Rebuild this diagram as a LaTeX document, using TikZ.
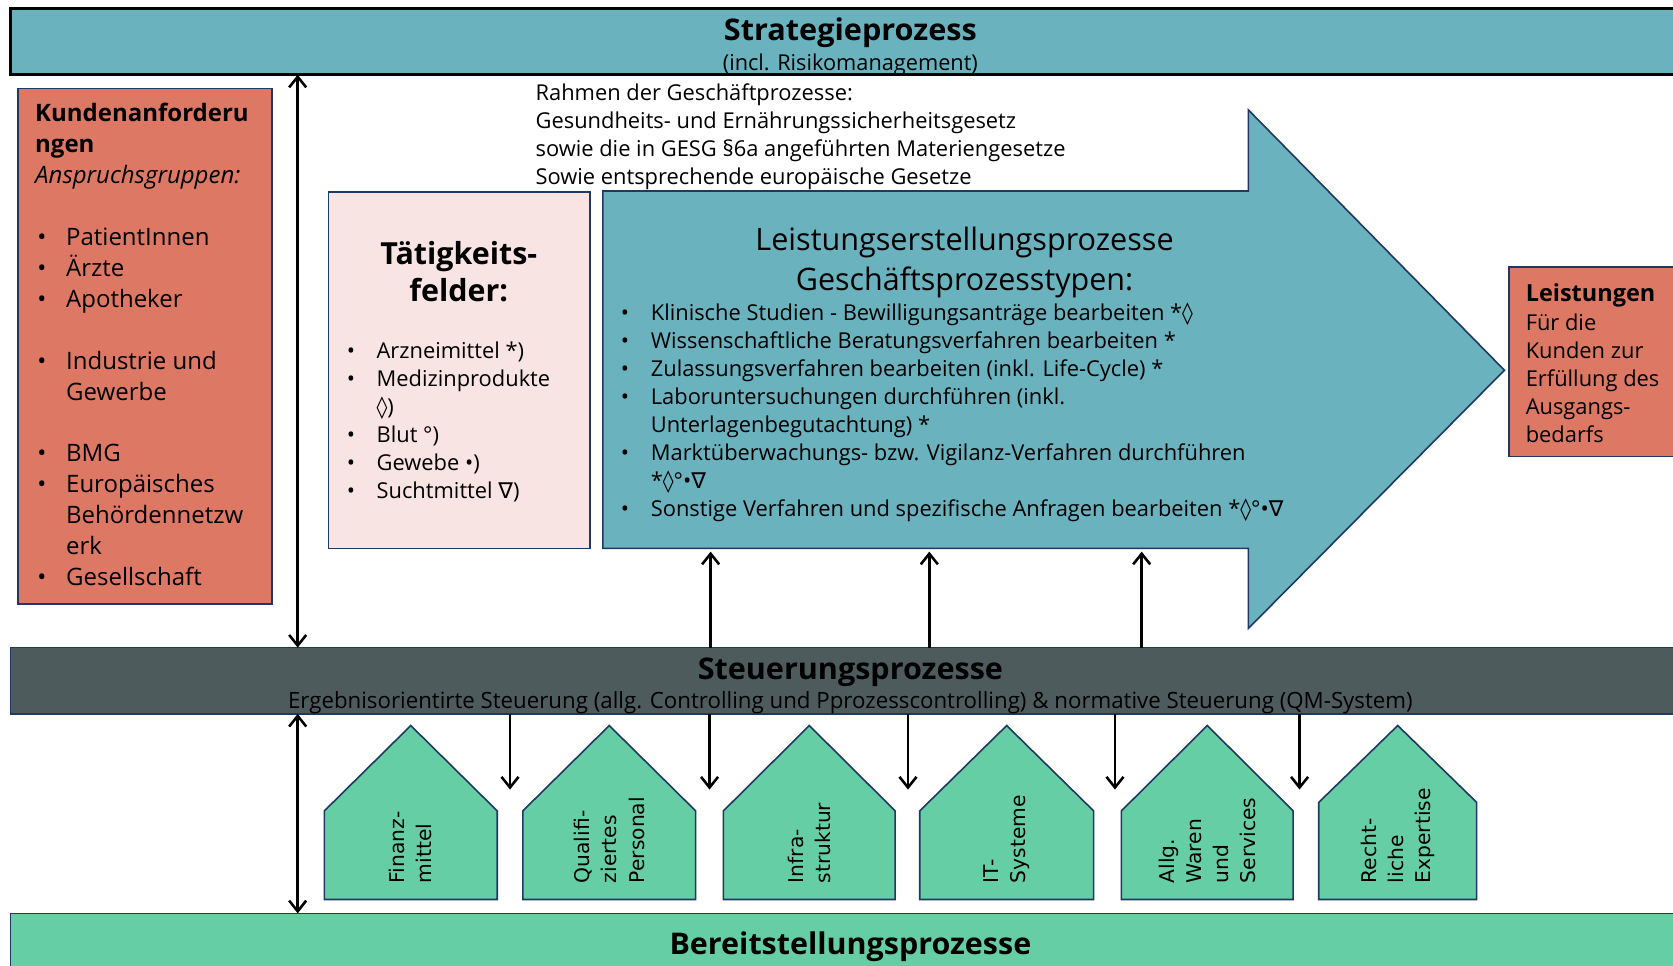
\documentclass[tikz,border=0pt]{standalone}
\usepackage{fontspec}
\usepackage{graphicx}
\setmainfont{Open Sans}
\newfontfamily\symf{DejaVu Sans}
\newfontfamily\housef{DejaVu Sans}
\usetikzlibrary{arrows.meta}
\definecolor{tealbg}{RGB}{105,178,190}
\definecolor{salmonbg}{RGB}{221,120,101}
\definecolor{pinkbg}{RGB}{248,228,227}
\definecolor{darkbar}{RGB}{78,91,92}
\definecolor{greenbg}{RGB}{102,206,165}
\definecolor{navyline}{RGB}{31,56,100}
\newcommand\fsz[2]{\fontsize{#1pt}{#2pt}\selectfont}
\newcommand\bul[1]{\makebox[#1][l]{\hspace{2pt}•}}
\newcommand\loz{{\symf ◊}}
\newcommand\nab{{\symf ∇}}
\newcommand\house[6]{%
  \draw[housebox] (#2,843) -- (#2,#4) -- ({(#2+#3)/2},680) -- (#3,#5) -- (#3,843) -- cycle;
  \node[housetxt] (#1) at ({(#2+#3)/2},828) {#6};}
\begin{document}
\begin{tikzpicture}[x=1pt,y=-1pt,
  box/.style={draw=navyline, line width=1.5pt, inner sep=0pt, outer sep=0pt, anchor=north west},
  txt/.style={inner sep=0pt, outer sep=0pt, anchor=base west},
  ctxt/.style={inner sep=0pt, outer sep=0pt, anchor=base},
  housebox/.style={draw=navyline, line width=1.5pt, fill=greenbg, line join=miter},
  housetxt/.style={rotate=90, anchor=west, align=left, inner sep=0pt, font=\housef\fsz{19}{25.5}},
  arr/.style={line width=2.4pt, -{Straight Barb[length=10pt,width=16pt]}},
  dbl/.style={line width=2.4pt, {Straight Barb[length=10pt,width=16pt]}-{Straight Barb[length=10pt,width=16pt]}}]
\useasboundingbox (0,0) rectangle (1568,905);
\clip (0,0) rectangle (1568,905);
\fill[white] (0,0) rectangle (1568,905);

% bars
\node[box, draw=black, line width=2.5pt, fill=tealbg, minimum width=1575pt, minimum height=62pt] (strat) at (10,8) {};
\node[box, fill=darkbar, minimum width=1575pt, minimum height=62pt] (steu) at (10,607) {};
\node[box, fill=greenbg, minimum width=1575pt, minimum height=70pt] (bereit) at (10,856) {};

\node[ctxt] (strattitle) at (797,38) {\resizebox{237pt}{\height}{\fsz{28}{34}\bfseries Strategieprozess}};
\node[ctxt] (stratsub) at (797,66) {\resizebox{239pt}{\height}{\fsz{20.5}{26}(incl. Risikomanagement)}};
\node[ctxt] (steutitle) at (797,637) {\resizebox{286pt}{\height}{\fsz{28}{34}\bfseries Steuerungsprozesse}};
\node[ctxt] (steusub) at (797,664) {\resizebox{1054pt}{\height}{\fsz{21}{26}Ergebnisorientirte Steuerung (allg. Controlling und Pprozesscontrolling) \& normative Steuerung (QM-System)}};
\node[ctxt] (bereittitle) at (797,895) {\resizebox{339pt}{\height}{\fsz{28}{34}\bfseries Bereitstellungsprozesse}};

% Kundenanforderungen
\node[box, fill=salmonbg, minimum width=238pt, minimum height=483pt] (kund) at (17,83) {};
\node[txt] (kundtxt) at (33,114) {\parbox[t]{230pt}{\fsz{22.5}{29}\raggedright
\textbf{Kundenanforderu}\\
\textbf{ngen}\\
\textit{Anspruchsgruppen:}\\
\mbox{}\\
\bul{29pt}PatientInnen\\
\bul{29pt}Ärzte\\
\bul{29pt}Apotheker\\
\mbox{}\\
\bul{29pt}Industrie und\\
\hspace*{29pt}Gewerbe\\
\mbox{}\\
\bul{29pt}BMG\\
\bul{29pt}Europäisches\\
\hspace*{29pt}Behördennetzw\\
\hspace*{29pt}erk\\
\bul{29pt}Gesellschaft}};

% Rahmen
\node[txt] (rahmen) at (502,94) {\parbox[t]{600pt}{\fsz{20.5}{26.3}\raggedright
Rahmen der Geschäftprozesse:\\
Gesundheits- und Ernährungssicherheitsgesetz\\
sowie die in GESG §6a angeführten Materiengesetze\\
Sowie entsprechende europäische Gesetze}};

% Taetigkeitsfelder
\node[box, fill=pinkbg, minimum width=245pt, minimum height=334pt] (taet) at (308,180) {};
\node[ctxt] (taettitle) at (430,248) {\parbox[t]{240pt}{\centering\fsz{28.5}{35}\bfseries Tätigkeits-\\felder:}};
\node[txt] (taettxt) at (323,336) {\parbox[t]{228pt}{\fsz{20.5}{26.2}\raggedright
\bul{30pt}Arzneimittel *)\\
\bul{30pt}Medizinprodukte\\
\hspace*{30pt}\loz)\\
\bul{30pt}Blut °)\\
\bul{30pt}Gewebe •)\\
\bul{30pt}Suchtmittel \nab)}};

% big arrow
\draw[draw=navyline, line width=1.5pt, fill=tealbg, line join=miter]
  (565,179) -- (1170,179) -- (1170,103) -- (1410,347) -- (1170,589) -- (1170,514) -- (565,514) -- cycle;
\node[ctxt] (leisttitle1) at (904,235) {\resizebox{392pt}{\height}{\fsz{29}{37}Leistungserstellungsprozesse}};
\node[ctxt] (leisttitle2) at (904,272) {\resizebox{316pt}{\height}{\fsz{29}{37}Geschäftsprozesstypen:}};
\node[txt] (leisttxt) at (580,300) {\parbox[t]{700pt}{\fsz{20.5}{26.3}\raggedright
\bul{30pt}Klinische Studien - Bewilligungsanträge bearbeiten *\loz\\
\bul{30pt}Wissenschaftliche Beratungsverfahren bearbeiten *\\
\bul{30pt}Zulassungsverfahren bearbeiten (inkl. Life-Cycle) *\\
\bul{30pt}Laboruntersuchungen durchführen (inkl.\\
\hspace*{30pt}Unterlagenbegutachtung) *\\
\bul{30pt}Marktüberwachungs- bzw. Vigilanz-Verfahren durchführen\\
\hspace*{30pt}*\loz°•\nab\\
\bul{30pt}Sonstige Verfahren und spezifische Anfragen bearbeiten *\loz°•\nab}};

% Leistungen
\node[box, fill=salmonbg, minimum width=170pt, minimum height=178pt] (leist) at (1414,250) {};
\node[txt] (leisttxtr) at (1430,283) {\parbox[t]{150pt}{\fsz{20.5}{26.4}\raggedright
{\fsz{22}{26.4}\bfseries Leistungen}\\
Für die\\
Kunden zur\\
Erfüllung des\\
Ausgangs-\\
bedarfs}};

% houses
\house{h1}{304}{466}{760}{760}{Finanz-\\mittel}
\house{h2}{490}{652}{760}{760}{Qualifi-\\ziertes\\Personal}
\house{h3}{678}{839}{760}{760}{Infra-\\struktur}
\house{h4}{862}{1025}{760}{760}{IT-\\Systeme}
\house{h5}{1051}{1212}{760}{760}{Allg.\\Waren\\und\\Services}
\house{h6}{1236}{1384}{752}{752}{Recht-\\liche\\Expertise}

% connectors
\coordinate (ka) at (279,0);
\draw[dbl] (strat.south -| ka) -- (steu.north -| ka);
\draw[dbl] (steu.south -| ka) -- (bereit.north -| ka);
\coordinate (u1) at (666,517);
\coordinate (u2) at (871,517);
\coordinate (u3) at (1070,517);
\draw[arr] (steu.north -| u1) -- (u1);
\draw[arr] (steu.north -| u2) -- (u2);
\draw[arr] (steu.north -| u3) -- (u3);
\coordinate (d1) at (478,740);
\coordinate (d2) at (665,740);
\coordinate (d3) at (851,740);
\coordinate (d4) at (1045,740);
\coordinate (d5) at (1218,740);
\draw[arr] (steu.south -| d1) -- (d1);
\draw[arr] (steu.south -| d2) -- (d2);
\draw[arr] (steu.south -| d3) -- (d3);
\draw[arr] (steu.south -| d4) -- (d4);
\draw[arr] (steu.south -| d5) -- (d5);
\end{tikzpicture}
\end{document}
